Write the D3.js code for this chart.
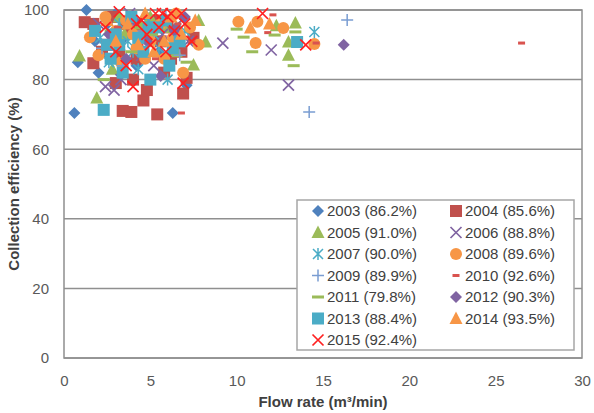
<!DOCTYPE html>
<html>
<head>
<meta charset="utf-8">
<script src="https://cdn.jsdelivr.net/npm/d3@7"></script>
<style>
  body { margin: 0; background: #fff; }
  text { font-family: "Liberation Sans", Arial, sans-serif; }
</style>
</head>
<body>
<div id="chart"></div>
<script>
// ---- data (flow rate m3/min, collection efficiency %) ----
const s2003 = [[1.3,100],[0.8,85],[0.6,70.4],[6.3,70.4],[7.1,78.4],[2.5,96],[3.5,92],[4.8,98],[5.5,88],[2.0,82],[6.5,95],[4.2,84],[3.0,99],[1.8,91]];
const s2004 = [[1.7,96],[1.7,84.7],[4,80],[4.6,74],[5.4,70],[3.4,71],[7.1,80.5],[3.9,70.7],[6.9,76],[2.5,90],[3.2,87],[4.5,93],[5.8,82],[6.5,90],[2.8,98],[3.8,95],[5.2,97],[6.2,86],[7.5,92],[4.8,77],[2.2,88],[3.0,79],[6.0,95],[1.2,96.5],[4.2,86],[5.6,91],[3.5,96],[6.8,88]];
const s2005 = [[0.9,86.8],[1.9,74.7],[8.2,90.8],[7.5,84.2],[13.4,96.3],[13,90.8],[13,87],[3.5,93],[5,98],[6.5,88],[2.8,83],[4.4,96],[7.8,97],[12.3,95.5],[5.8,95],[3.2,98]];
const s2006 = [[2.4,78],[9.2,90.5],[12,88.5],[13,78.4],[2.9,77],[3.3,80],[4.5,87],[5.7,93],[6.8,97],[3.8,99],[2.0,96],[5.2,84],[7.2,91]];
const s2007 = [[14.5,93.7],[2.6,85],[3.7,91],[4.9,97],[6.0,80],[5.5,89],[3.2,96],[7.0,94],[2.1,92],[4.3,83],[4.0,88],[5.2,93]];
const s2008 = [[10.1,96.6],[11.2,96.6],[12.7,94.8],[11.1,90.5],[14.5,90.2],[1.5,92.2],[3.0,94],[4.2,89],[5.6,96],[6.3,92],[7.3,95],[2.4,98],[4.7,86],[6.9,82],[3.6,97],[5.0,91],[7.8,90],[2.0,87],[3.3,85],[5.8,86],[6.5,99],[4.0,93]];
const s2009 = [[16.4,97.1],[14.2,70.7],[2.2,89],[3.4,84],[4.6,94],[5.9,98],[6.7,87],[2.8,92],[4.0,97]];
const s2010 = [[12.1,98.6],[14.6,90.5],[26.5,90.5],[6.8,70.4],[11.8,93.5],[3.1,95],[4.4,90],[5.3,86],[6.6,96],[7.4,91]];
const s2011 = [[10.4,92.2],[12.2,92.8],[10.9,88],[13.3,84],[13.4,93.7],[10.0,94.5],[2.3,80],[3.9,88],[5.1,93],[6.1,97],[7.1,85],[2.7,94]];
const s2012 = [[16.2,90],[3.6,86],[4.8,91],[6.4,94],[5.6,81],[7.0,98],[2.6,93],[4.1,97]];
const s2013 = [[2.3,71.3],[13.5,90.8],[3.2,90],[4.6,88],[5.4,95],[6.1,84],[2.7,86],[3.9,98],[5.0,80],[6.7,91],[1.8,94],[4.3,92],[5.9,97],[3.4,82],[2.5,90],[4.9,95],[6.3,89],[3.0,93]];
const s2014 = [[10.8,94.8],[11.9,96],[3.7,96],[5.8,91],[6.2,98],[2.5,97],[4.7,99],[7.6,97],[5.2,88],[3.0,91],[4.3,90],[6.8,93]];
const s2015 = [[11.5,99],[14,90],[3.0,88],[4.5,97],[5.3,99],[5.7,99],[6.0,98],[6.4,94],[7.0,96],[7.4,91],[3.6,84],[4.8,93],[5.9,88],[2.4,95],[6.8,99],[3.2,99.5],[5.0,90],[4.0,78],[6.9,79],[4.2,96],[5.5,95],[6.2,99]];

const seriesNames = ["2003 (86.2%)","2004 (85.6%)","2005 (91.0%)","2006 (88.8%)","2007 (90.0%)","2008 (89.6%)","2009 (89.9%)","2010 (92.6%)","2011 (79.8%)","2012 (90.3%)","2013 (88.4%)","2014 (93.5%)","2015 (92.4%)"];
const seriesData = [s2003,s2004,s2005,s2006,s2007,s2008,s2009,s2010,s2011,s2012,s2013,s2014,s2015];
const seriesMarker = ["diamond","square","triangle","x","star","circle","plus","dash","longdash","diamond","square","triangle","x"];
const seriesColor = ["#4F81BD","#C0504D","#9BBB59","#8064A2","#4BACC6","#F79646","#7A9DD2","#D9534F","#9BBB59","#8064A2","#4BACC6","#F79646","#FF2020"];

const xTicks = [0,5,10,15,20,25,30];
const yTicks = [0,20,40,60,80,100];

// ---- layout ----
const W = 594, H = 413;
const plot = { left: 64, right: 582, top: 10, bottom: 358 };

const svg = d3.select("#chart").append("svg")
  .attr("width", W).attr("height", H);

const x = d3.scaleLinear().domain([0,30]).range([plot.left, plot.right]);
const y = d3.scaleLinear().domain([0,100]).range([plot.bottom, plot.top]);

// gridlines
svg.append("g")
  .selectAll("line")
  .data(yTicks)
  .join("line")
  .attr("x1", plot.left).attr("x2", plot.right)
  .attr("y1", d => y(d)).attr("y2", d => y(d))
  .attr("stroke", "#8f8f8f").attr("stroke-width", 1.5);

// plot border
svg.append("rect")
  .attr("x", plot.left).attr("y", plot.top)
  .attr("width", plot.right - plot.left).attr("height", plot.bottom - plot.top)
  .attr("fill", "none").attr("stroke", "#8f8f8f").attr("stroke-width", 1.5);

// axes labels
const xAxis = svg.append("g")
  .attr("transform", `translate(0,${plot.bottom + 8})`)
  .call(d3.axisBottom(x).tickValues(xTicks).tickSize(0).tickPadding(9));
xAxis.select(".domain").remove();
xAxis.selectAll("text").style("font-size", "15px").attr("fill", "#595959")
  .style("font-family", "Liberation Sans, Arial, sans-serif");

const yAxis = svg.append("g")
  .attr("transform", `translate(${plot.left - 15},0)`)
  .call(d3.axisLeft(y).tickValues(yTicks).tickSize(0).tickPadding(0));
yAxis.select(".domain").remove();
yAxis.selectAll("text").style("font-size", "15px").attr("fill", "#595959")
  .style("font-family", "Liberation Sans, Arial, sans-serif");

// axis titles
svg.append("text")
  .attr("x", (plot.left + plot.right) / 2).attr("y", 407)
  .attr("text-anchor", "middle")
  .style("font-size", "15px").style("font-weight", "bold").attr("fill", "#404040")
  .text("Flow rate (m³/min)");

svg.append("text")
  .attr("transform", `translate(19,${(plot.top + plot.bottom) / 2}) rotate(-90)`)
  .attr("text-anchor", "middle")
  .style("font-size", "15px").style("font-weight", "bold").attr("fill", "#404040")
  .text("Collection efficiency (%)");

// ---- markers ----
function drawMarker(g, type, color) {
  if (type === "diamond") {
    g.append("path").attr("d", "M0,-6L6,0L0,6L-6,0Z").attr("fill", color);
  } else if (type === "square") {
    g.append("rect").attr("x", -6).attr("y", -6).attr("width", 12).attr("height", 12).attr("fill", color);
  } else if (type === "triangle") {
    g.append("path").attr("d", "M0,-7L6.5,5.5L-6.5,5.5Z").attr("fill", color);
  } else if (type === "circle") {
    g.append("circle").attr("r", 6).attr("fill", color);
  } else if (type === "x") {
    g.append("path").attr("d", "M-5.5,-5.5L5.5,5.5M-5.5,5.5L5.5,-5.5").attr("stroke", color).attr("stroke-width", 1.7).attr("fill", "none");
  } else if (type === "star") {
    g.append("path").attr("d", "M-5,-5L5,5M-5,5L5,-5M0,-6L0,6").attr("stroke", color).attr("stroke-width", 1.5).attr("fill", "none");
  } else if (type === "plus") {
    g.append("path").attr("d", "M-6,0L6,0M0,-6L0,6").attr("stroke", color).attr("stroke-width", 1.5).attr("fill", "none");
  } else if (type === "dash") {
    g.append("rect").attr("x", -3.5).attr("y", -1.5).attr("width", 7).attr("height", 3).attr("fill", color);
  } else if (type === "longdash") {
    g.append("rect").attr("x", -6).attr("y", -1.5).attr("width", 12).attr("height", 3).attr("fill", color);
  }
}

seriesData.forEach((pts, i) => {
  svg.append("g")
    .selectAll("g")
    .data(pts)
    .join("g")
    .attr("transform", d => `translate(${x(d[0])},${y(d[1])})`)
    .each(function() { drawMarker(d3.select(this), seriesMarker[i], seriesColor[i]); });
});

// ---- legend ----
const legend = svg.append("g");
legend.append("rect")
  .attr("x", 297).attr("y", 200).attr("width", 277).attr("height", 150)
  .attr("fill", "#fff").attr("stroke", "#a6a6a6").attr("stroke-width", 1.5);

seriesNames.forEach((name, i) => {
  const col = i % 2, row = Math.floor(i / 2);
  const lx = col === 0 ? 318 : 456;
  const ly = 211 + row * 21.5;
  const g = legend.append("g").attr("transform", `translate(${lx},${ly})`);
  drawMarker(g, seriesMarker[i], seriesColor[i]);
  legend.append("text")
    .attr("x", lx + 9).attr("y", ly).attr("dy", "0.35em")
    .style("font-size", "15px").attr("fill", "#404040")
    .text(name);
});
</script>
</body>
</html>
